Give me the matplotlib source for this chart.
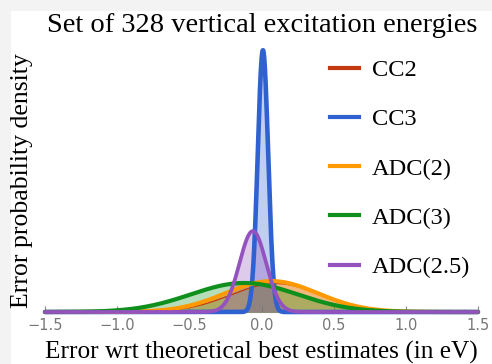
import numpy as np
import matplotlib
matplotlib.use("Agg")
import matplotlib.pyplot as plt
from matplotlib.patches import Rectangle
from matplotlib.ticker import MultipleLocator

# Data (Gaussian-shaped error densities)
methods = ["CC2", "CC3", "ADC(2)", "ADC(3)", "ADC(2.5)"]
means = [0.10, 0.01, 0.07, -0.12, -0.06]
sigmas = [0.31, 0.036, 0.32, 0.37, 0.092]
peaks = [1.06, 9.74, 1.15, 1.08, 3.01]
colors = ["#c4390f", "#2f62d0", "#ff9900", "#0f8f1c", "#9452bf"]
linewidths = [1.0, 3.3, 3.0, 3.0, 2.7]

title = "Set of 328 vertical excitation energies"
xlabel = "Error wrt theoretical best estimates (in eV)"
ylabel = "Error probability density"
xticks = [-1.5, -1.0, -0.5, 0.0, 0.5, 1.0, 1.5]

W, H = 492, 364
fig = plt.figure(figsize=(W / 100, H / 100), dpi=100, facecolor="#f3f3f3")
fig.patches.append(Rectangle((11 / W, 0), 1 - 11 / W, 1 - 11 / H,
                             transform=fig.transFigure, facecolor="white",
                             edgecolor="none", zorder=-10))

left, right = 45 / W, 478 / W
bottom = 52 / H
top = 302 / H
ax = fig.add_axes([left, bottom, right - left, top - bottom])
ax.set_facecolor("none")
ax.set_zorder(1)

x = np.linspace(-1.5, 1.5, 1500)
for i, m in enumerate(methods):
    y = peaks[i] * np.exp(-0.5 * ((x - means[i]) / sigmas[i]) ** 2)
    ax.fill_between(x, 0, y, color=colors[i], alpha=0.3, linewidth=0, zorder=1 + i)
    ax.plot(x, y, color=colors[i], lw=linewidths[i], zorder=10 + i,
            solid_capstyle="round", clip_on=False, label=m)

ax.set_xlim(-1.5, 1.5)
ax.set_ylim(0, 9.3)
ax.set_xticks(xticks)
ax.xaxis.set_minor_locator(MultipleLocator(0.1))
ax.set_yticks([])
for s in ["top", "right", "left"]:
    ax.spines[s].set_visible(False)
ax.spines["bottom"].set_color("#999999")
ax.tick_params(axis="x", which="major", direction="in", length=4, color="#888888",
               labelcolor="#777777", labelsize=10.5, pad=4)
ax.tick_params(axis="x", which="minor", direction="in", length=2, color="#aaaaaa")

serif = "Liberation Serif"
fig.text(262 / W, 1 - 25 / H, title, ha="center", va="center",
         fontsize=20.5, family=serif)
fig.text(261.5 / W, 1 - 352 / H, xlabel, ha="center", va="center",
         fontsize=18.2, family=serif)
fig.text(22 / W, 1 - 181 / H, ylabel, ha="center", va="center", rotation=90,
         fontsize=18.5, family=serif)

leg_handles = [plt.Line2D([], [], color=c, lw=3) for c in colors]
leg = fig.legend(leg_handles, methods, loc="upper left",
                 bbox_to_anchor=(308 / W, 1 - 37 / H), frameon=False,
                 prop={"family": serif, "size": 17.6}, handlelength=1.2,
                 handletextpad=0.5, labelspacing=1.11)

fig.savefig("out.png", dpi=100, facecolor=fig.get_facecolor())
